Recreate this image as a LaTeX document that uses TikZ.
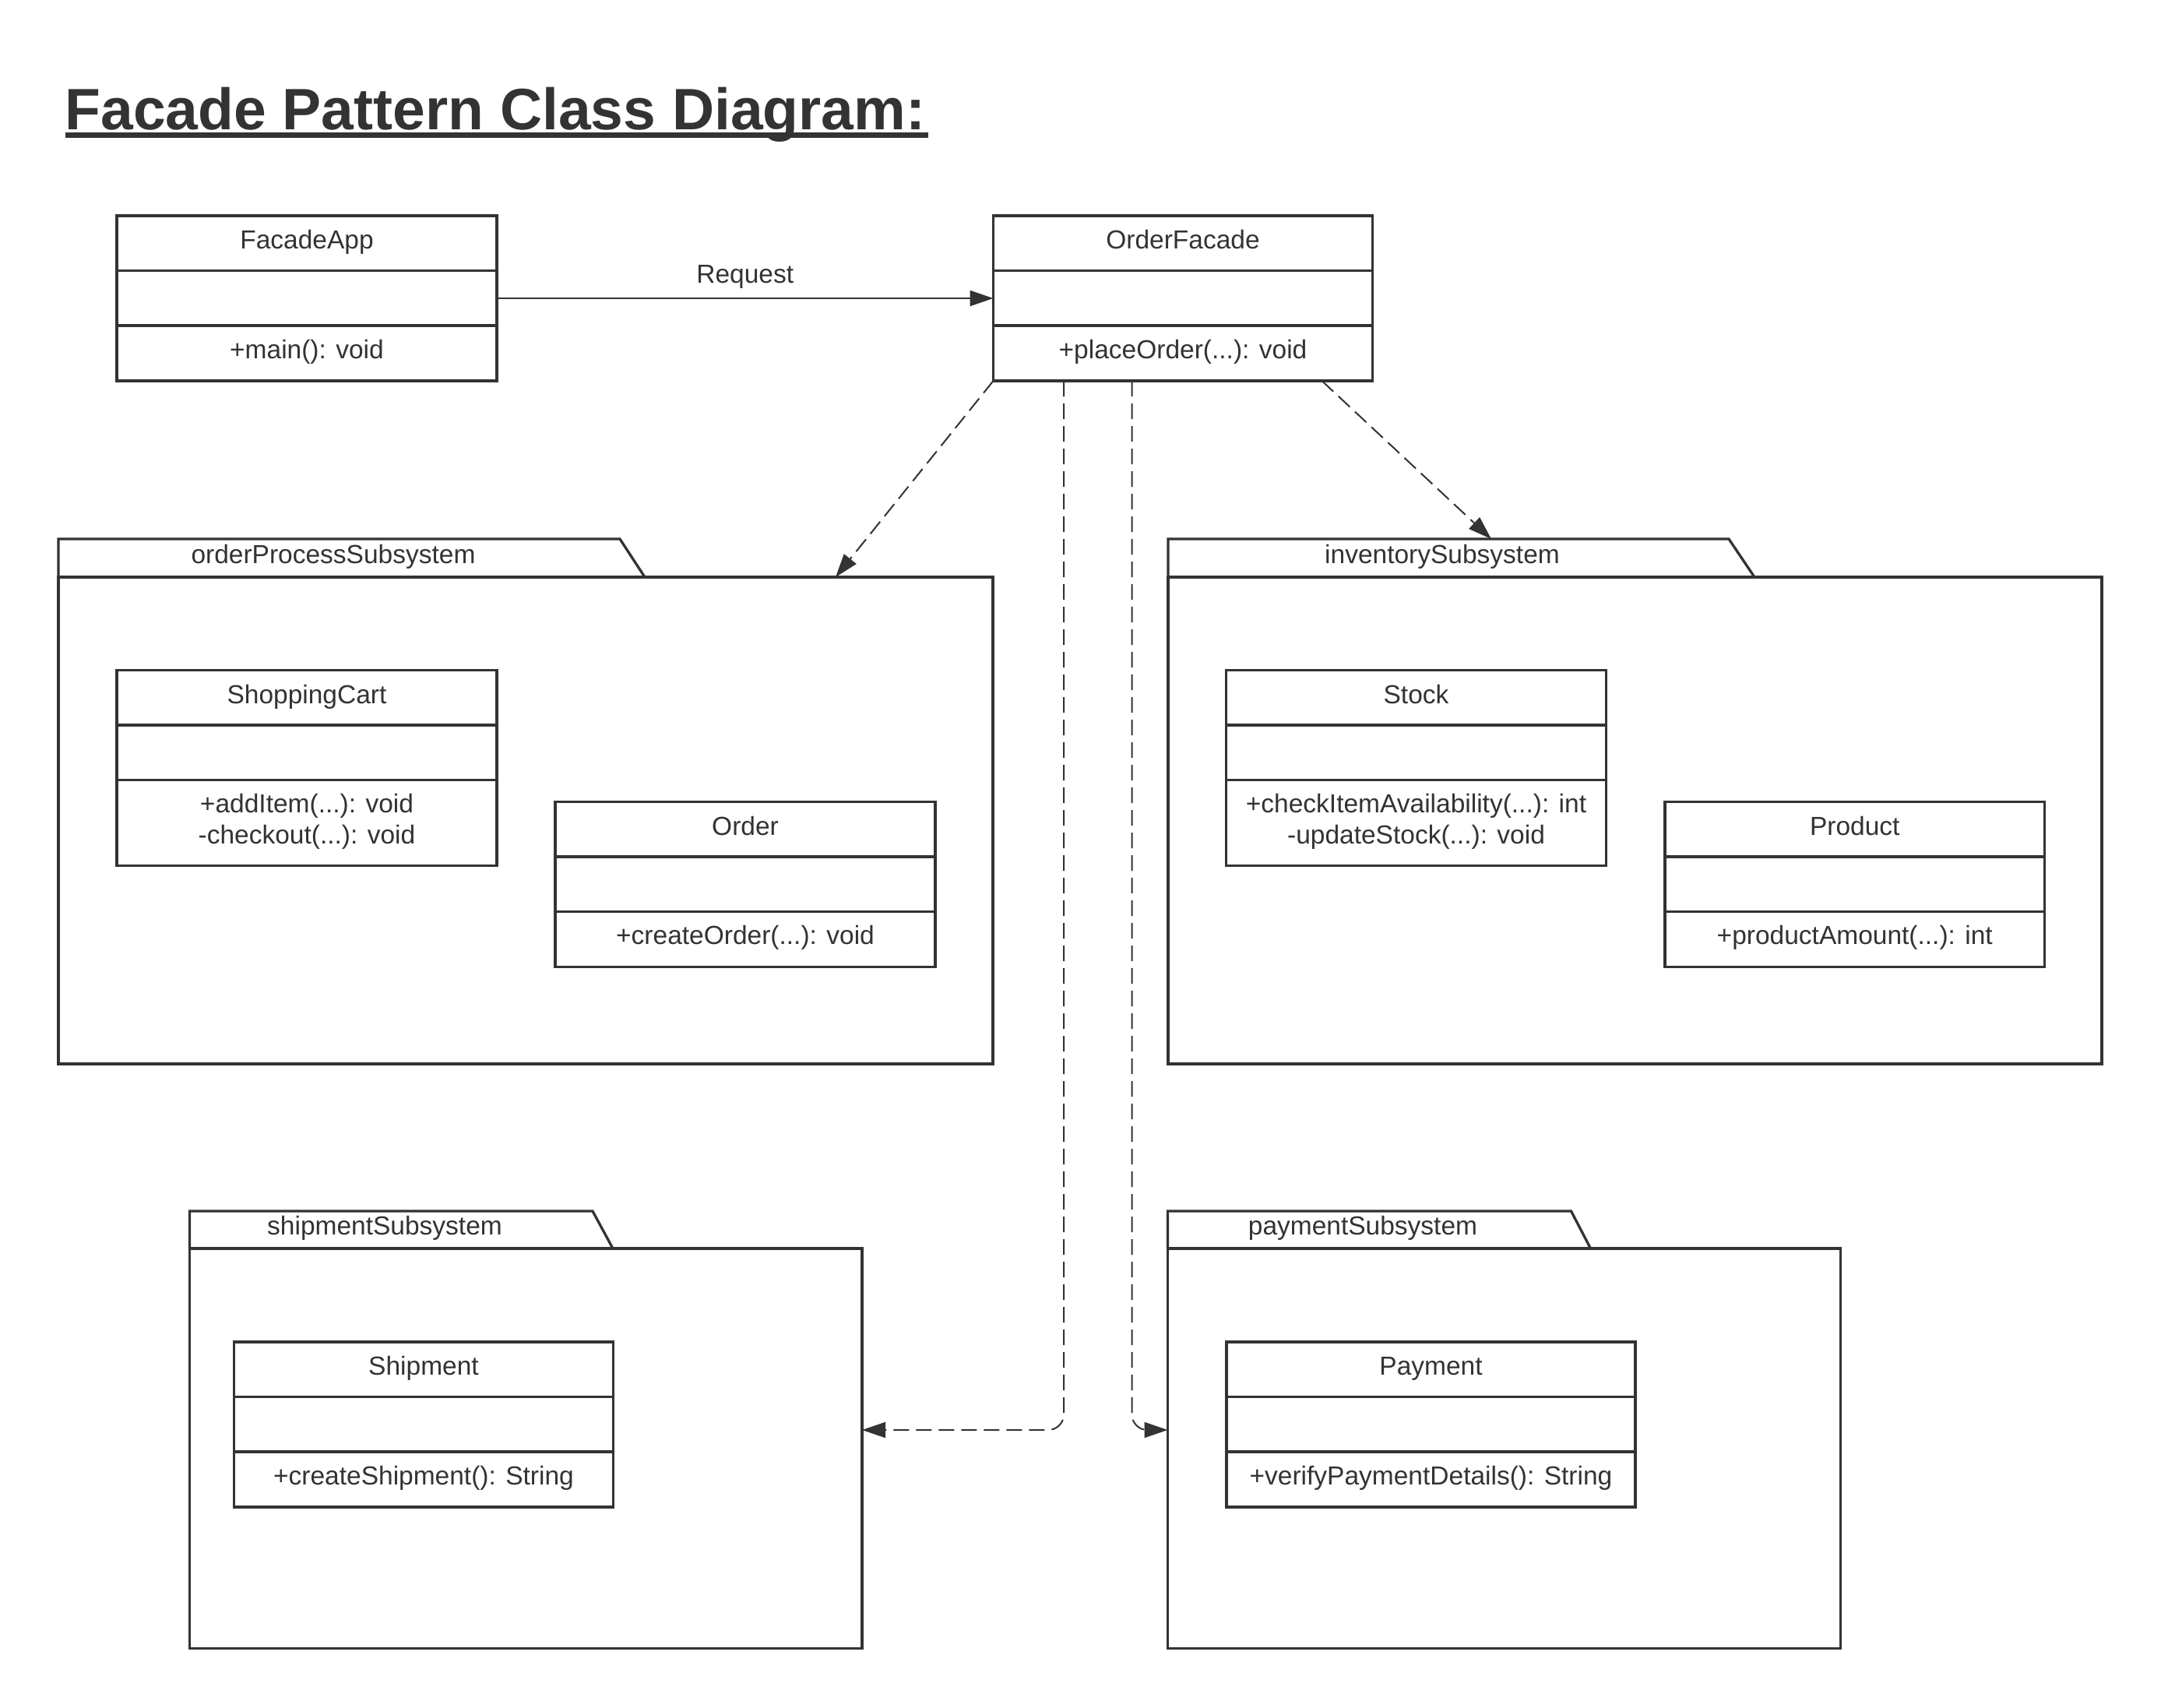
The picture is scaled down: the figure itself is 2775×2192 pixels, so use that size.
\documentclass[tikz,border=0pt]{standalone}
\usepackage{fontspec}
\setmainfont{Liberation Sans}
\usetikzlibrary{arrows.meta,calc}
\definecolor{ink}{HTML}{333333}
\tikzset{
  classrect/.style={draw=ink, line width=3.3pt, rectangle, inner sep=0pt, outer sep=0pt, anchor=north west},
  divider/.style={draw=ink, line width=3.3pt},
  txt/.style={font=\fontsize{33.5}{40}\selectfont, text=ink, inner sep=0pt, anchor=base},
  pkgtab/.style={draw=ink, line width=3.3pt, line join=miter},
  pkgbody/.style={draw=ink, line width=3.3pt, rectangle, inner sep=0pt, outer sep=0pt, anchor=north west},
  dep/.style={draw=ink, line width=2pt, dash pattern=on 20pt off 9pt, -{Triangle[length=30pt,width=20pt]}},
  assoc/.style={draw=ink, line width=2.2pt, -{Triangle[length=30pt,width=20pt]}},
}
% #1 name, #2 left, #3 top, #4 width, #5 total height, #6 title
\newcommand\umlclass[6]{%
  \node[classrect, minimum width=#4pt, minimum height=#5pt] (#1) at (#2,#3) {};
  \draw[divider] ([yshift=-70.5pt]#1.north west) -- ([yshift=-70.5pt]#1.north east);
  \draw[divider] ([yshift=-141pt]#1.north west) -- ([yshift=-141pt]#1.north east);
  \node[txt] (#1-title) at ([yshift=-42.5pt]#1.north) {#6};
}
\begin{document}
\begin{tikzpicture}[x=1pt,y=-1pt]
\useasboundingbox (0,0) rectangle (2775,2192);
\fill[white] (0,0) rectangle (2775,2192);

% title
\node[font=\fontsize{75}{80}\selectfont\bfseries, text=ink, inner sep=0pt, anchor=base west] (title) at (83.5,166) {Facade Pattern Class Diagram:};
\draw[ink, line width=7pt] ([yshift=-7pt]title.base west) -- ([yshift=-7pt,xshift=3pt]title.base east);

% packages
\coordinate (optab) at (75,692);
\draw[pkgtab] (75,741) -- (optab) -- (796,692) -- (828,741);
\node[pkgbody, minimum width=1200pt, minimum height=625pt] (opbody) at (75,741) {};
\node[txt] (oplabel) at (428,723) {orderProcessSubsystem};

\coordinate (invtab) at (1500,692);
\draw[pkgtab] (1500,741) -- (invtab) -- (2220,692) -- (2253,741);
\node[pkgbody, minimum width=1199pt, minimum height=625pt] (invbody) at (1500,741) {};
\node[txt] (invlabel) at (1852,723) {inventorySubsystem};

\coordinate (shtab) at (243.5,1555);
\draw[pkgtab] (243.5,1603) -- (shtab) -- (761,1555) -- (787,1603);
\node[pkgbody, minimum width=863.5pt, minimum height=513.5pt] (shbody) at (243.5,1603) {};
\node[txt] (shlabel) at (494,1585) {shipmentSubsystem};

\coordinate (pytab) at (1499.5,1555);
\draw[pkgtab] (1499.5,1603) -- (pytab) -- (2017.5,1555) -- (2042.5,1603);
\node[pkgbody, minimum width=864pt, minimum height=513.5pt] (pybody) at (1499.5,1603) {};
\node[txt] (pylabel) at (1750,1585) {paymentSubsystem};

% classes
\umlclass{facadeapp}{150}{277}{488}{212}{FacadeApp}
\node[txt] (facadeapp-op1) at ([yshift=-183pt]facadeapp.north) {+main(): void};

\umlclass{orderfacade}{1275.5}{277}{487}{212}{OrderFacade}
\node[txt] (orderfacade-op1) at ([yshift=-183pt]orderfacade.north) {+placeOrder(...): void};

\umlclass{cart}{150}{860.5}{488}{251}{ShoppingCart}
\node[txt] (cart-op1) at ([yshift=-183pt]cart.north) {+addItem(...): void};
\node[txt] (cart-op2) at ([yshift=-223pt]cart.north) {-checkout(...): void};

\umlclass{order}{713}{1029.5}{488}{212}{Order}
\node[txt] (order-op1) at ([yshift=-183pt]order.north) {+createOrder(...): void};

\umlclass{stock}{1574.5}{860.5}{488}{251}{Stock}
\node[txt] (stock-op1) at ([yshift=-183pt]stock.north) {+checkItemAvailability(...): int};
\node[txt] (stock-op2) at ([yshift=-223pt]stock.north) {-updateStock(...): void};

\umlclass{product}{2138}{1029.5}{487.5}{212}{Product}
\node[txt] (product-op1) at ([yshift=-183pt]product.north) {+productAmount(...): int};

\umlclass{shipment}{300.5}{1723}{487}{212}{Shipment}
\node[txt] (shipment-op1) at ([yshift=-183pt]shipment.north) {+createShipment(): String};

\umlclass{payment}{1575}{1723}{525}{212}{Payment}
\node[txt] (payment-op1) at ([yshift=-183pt]payment.north) {+verifyPaymentDetails(): String};

% connectors
\draw[assoc] (facadeapp.east) -- (orderfacade.west)
  node[txt, midway, yshift=20pt] (reqlabel) {Request};
\draw[dep] (orderfacade.south west) -- ([xshift=998pt]opbody.north west);
\draw[dep] ([xshift=422pt]orderfacade.south west) -- ([xshift=415pt]invtab);
\draw[dep, rounded corners=20pt] ([xshift=90.5pt]orderfacade.south west) |- ([yshift=23.75pt]shbody.east);
\draw[dep, rounded corners=20pt] ([xshift=178pt]orderfacade.south west) |- ([yshift=23.75pt]pybody.west);
\end{tikzpicture}
\end{document}
